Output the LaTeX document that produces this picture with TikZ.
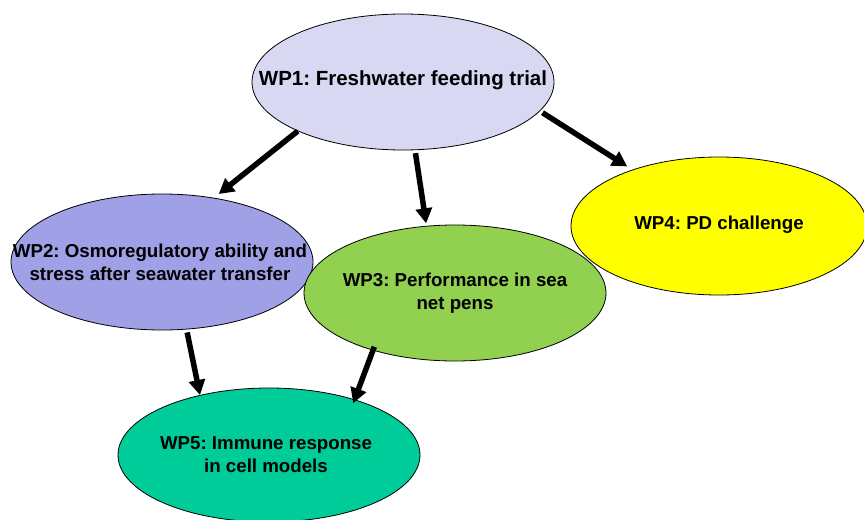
\documentclass[tikz,border=0pt]{standalone}
\usepackage{fontspec}
\setmainfont{Liberation Sans}
\usetikzlibrary{
    shapes.geometric,
    arrows.meta,
    positioning
}
\frenchspacing
\definecolor{wpLavender}{RGB}{216, 216, 243}
\definecolor{wpPurple}{RGB}{160, 160, 230}
\definecolor{wpGreen}{RGB}{146, 208, 80}
\definecolor{wpYellow}{RGB}{255, 255, 0}
\definecolor{wpTeal}{RGB}{0, 204, 153}
\tikzset{
    wpEllipse/.style={
        ellipse,
        draw=black,
        line width=0.8pt,
        inner sep=0pt,
        minimum width=302pt,
        minimum height=136pt
    },
    wpText/.style={
        font=\bfseries\fontsize{18.7}{23}\selectfont,
        text=black,
        align=center,
        inner sep=0pt
    },
    flowArrow/.style={
        draw=black,
        line width=5.5pt,
        -{Triangle[length=15pt, width=16pt]}
    }
}

\begin{document}
\begin{tikzpicture}[x=1pt, y=-1pt]
    \useasboundingbox (0,0) rectangle (864,519);

    % Work packages
    \node[wpEllipse, fill=wpLavender] (wp1) at (403,82) {};
    \node[wpEllipse, fill=wpPurple] (wp2) at (162,262) {};
    \node[wpEllipse, fill=wpGreen] (wp3) at (455,293) {};
    \node[wpEllipse, fill=wpYellow, minimum width=296pt, minimum height=138pt] (wp4) at (719,226) {};
    \node[wpEllipse, fill=wpTeal, minimum height=134pt] (wp5) at (269,455) {};

    \node[wpText, font=\bfseries\fontsize{20.5}{24}\selectfont] at ([yshift=2pt]wp1.center) {WP1: Freshwater feeding trial};
    \node[wpText] at ([xshift=-2pt]wp2.center) {WP2: Osmoregulatory ability and\\stress after seawater transfer};
    \node[wpText] at (wp3.center) {WP3: Performance in sea\\net pens};
    \node[wpText] at ([yshift=1pt]wp4.center) {WP4: PD challenge};
    \node[wpText] at ([xshift=-3pt]wp5.center) {WP5: Immune response\\in cell models};

    % Links
    \draw[flowArrow, shorten >=6pt] (wp1.205) -- (wp2.51);
    \draw[flowArrow, shorten <=3pt, shorten >=2.5pt] (wp1.280) -- (wp3.113);
    \draw[flowArrow, shorten <=3pt, shorten >=6pt] (wp1.348) -- (wp4.147);
    \draw[flowArrow, shorten <=3pt] (wp2.290) -- (wp5.139);
    \draw[flowArrow, shorten <=-4pt, shorten >=-4pt] (wp3.215) -- (wp5.33);
\end{tikzpicture}
\end{document}
